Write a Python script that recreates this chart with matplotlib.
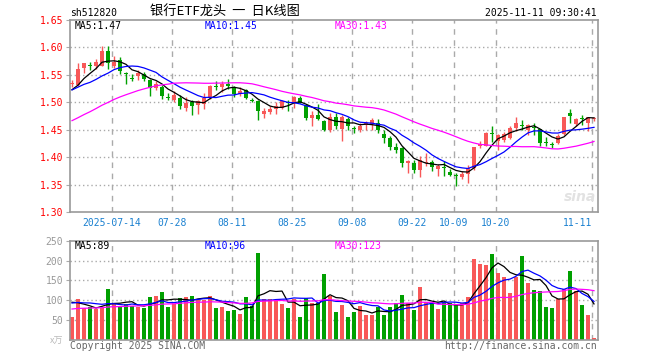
import numpy as np
import matplotlib
matplotlib.use("Agg")
import matplotlib.pyplot as plt

# daily candles, 2025-07-03 .. 2025-11-11 (88 trading days)
opens = [1.533,1.532,1.563,1.568,1.566,1.567,1.593,1.566,1.577,1.553,
         1.545,1.548,1.551,1.540,1.526,1.528,1.510,1.505,1.507,1.490,
         1.500,1.495,1.496,1.508,1.530,1.528,1.534,1.528,1.515,1.522,
         1.504,1.503,1.479,1.483,1.488,1.489,1.501,1.498,1.507,1.495,
         1.471,1.476,1.465,1.450,1.474,1.451,1.470,1.453,1.449,1.459,
         1.461,1.462,1.443,1.435,1.419,1.416,1.389,1.389,1.376,1.390,
         1.391,1.379,1.381,1.373,1.367,1.364,1.370,1.380,1.420,1.421,
         1.443,1.430,1.432,1.435,1.453,1.458,1.450,1.455,1.451,1.427,
         1.423,1.426,1.443,1.480,1.461,1.470,1.463,1.469]
closes = [1.535,1.561,1.571,1.566,1.574,1.593,1.571,1.574,1.557,1.551,
          1.543,1.554,1.543,1.526,1.533,1.511,1.508,1.513,1.493,1.499,
          1.493,1.503,1.508,1.530,1.528,1.534,1.529,1.516,1.520,1.507,
          1.502,1.484,1.485,1.488,1.494,1.503,1.499,1.510,1.499,1.472,
          1.477,1.469,1.450,1.474,1.457,1.473,1.457,1.451,1.457,1.463,
          1.468,1.449,1.434,1.418,1.413,1.389,1.393,1.376,1.395,1.392,
          1.382,1.384,1.380,1.367,1.366,1.370,1.381,1.418,1.424,1.444,
          1.442,1.440,1.442,1.454,1.463,1.457,1.458,1.454,1.425,1.425,
          1.422,1.439,1.474,1.475,1.469,1.469,1.473,1.472]
highs = [1.540,1.571,1.572,1.573,1.578,1.602,1.602,1.584,1.582,1.556,
         1.551,1.558,1.555,1.543,1.539,1.532,1.517,1.520,1.513,1.510,
         1.505,1.505,1.517,1.532,1.539,1.539,1.543,1.530,1.528,1.524,
         1.508,1.505,1.490,1.494,1.501,1.504,1.505,1.511,1.512,1.496,
         1.485,1.496,1.468,1.481,1.481,1.476,1.473,1.457,1.462,1.465,
         1.471,1.470,1.450,1.438,1.426,1.419,1.394,1.395,1.402,1.408,
         1.395,1.387,1.393,1.378,1.371,1.375,1.385,1.419,1.429,1.445,
         1.457,1.442,1.445,1.456,1.474,1.467,1.460,1.463,1.452,1.436,
         1.428,1.443,1.474,1.487,1.472,1.476,1.474,1.473]
lows = [1.528,1.529,1.554,1.558,1.561,1.566,1.561,1.563,1.551,1.534,
        1.538,1.540,1.538,1.511,1.523,1.506,1.504,1.501,1.487,1.485,
        1.477,1.478,1.487,1.506,1.522,1.518,1.524,1.510,1.512,1.506,
        1.500,1.468,1.471,1.478,1.479,1.487,1.484,1.489,1.498,1.467,
        1.457,1.467,1.447,1.445,1.451,1.430,1.449,1.444,1.445,1.450,
        1.450,1.444,1.426,1.413,1.407,1.382,1.371,1.371,1.364,1.384,
        1.374,1.365,1.366,1.365,1.348,1.360,1.353,1.376,1.417,1.421,
        1.428,1.413,1.428,1.433,1.448,1.449,1.440,1.440,1.421,1.421,
        1.417,1.424,1.440,1.463,1.456,1.459,1.447,1.466]
# volume, 万
volumes = [59,104,80,83,77,80,128,92,86,90,
           86,84,81,107,112,121,84,90,106,108,
           112,101,100,111,81,83,74,76,65,109,
           86,220,102,104,99,91,81,102,58,106,
           94,92,166,112,70,88,58,70,86,63,
           63,84,63,83,92,113,92,76,133,96,
           92,78,92,92,87,92,108,204,191,189,
           216,169,159,118,159,211,143,126,123,83,
           81,103,128,174,123,88,63,6]

# earlier days, only needed for the moving averages
pre_close = [1.40,1.40,1.41,1.40,1.41,1.42,1.41,1.42,1.43,1.43,
             1.44,1.45,1.44,1.45,1.46,1.47,1.46,1.48,1.49,1.50,
             1.51,1.52,1.53,1.52,1.53,1.52,1.51,1.52,1.53]
pre_vol = [60,65,72,58,70,75,68,80,66,72,70,64,78,74,69,73,75,70,68,83,
           88,92,85,95,95,110,98,104,104]

tick_idx = [7,17,27,37,47,57,64,71,87]
tick_lbl = ['2025-07-14','07-28','08-11','08-25','09-08','09-22','10-09','10-20','11-11']
price_ticks = [1.30,1.35,1.40,1.45,1.50,1.55,1.60,1.65]
vol_ticks = [50,100,150,200,250]

RED = '#f85858'
GREEN = '#00a000'
MONO = 'DejaVu Sans Mono'
CJK = ['Noto Sans CJK SC', 'DejaVu Sans']

def ma(vals, pre, n):
    a = np.array(pre + vals, dtype=float)
    m = np.convolve(a, np.ones(n) / n, mode='valid')
    return m[-len(vals):]

o = np.array(opens); c = np.array(closes)
h = np.array(highs); l = np.array(lows)
x = np.arange(len(closes))
up = c >= o
cols = np.where(up, RED, GREEN)

W, H = 660, 360
fig = plt.figure(figsize=(6.6, 3.6), dpi=100)
ax1 = fig.add_axes([70/W, 1-212/H, 528/W, 192/H])
ax2 = fig.add_axes([70/W, 1-340/H, 528/W, 99.3/H])

for ax in (ax1, ax2):
    ax.set_xlim(-1/3, 87 + 2/3)
    for s in ax.spines.values():
        s.set_color('#999999')
        s.set_linewidth(1.2)
    for k in tick_idx:
        ax.axvline(k - 1/3, color='#aaaaaa', lw=1, ls=(0, (4, 4)), zorder=0)

# candles
ax1.vlines(x, l, h, colors=cols, lw=1, zorder=2)
body = np.maximum(np.abs(c - o), 0.0018)
ax1.bar(x, body, bottom=np.minimum(o, c), width=0.8, color=cols, zorder=3)
ma5 = ma(closes, pre_close, 5)
ma10 = ma(closes, pre_close, 10)
ma30 = ma(closes, pre_close, 30)
ax1.plot(x, ma5, color='black', lw=0.9, zorder=4)
ax1.plot(x, ma10, color='#0000ff', lw=0.9, zorder=4)
ax1.plot(x, ma30, color='#ff00ff', lw=0.9, zorder=4)
ax1.set_ylim(1.30, 1.65)
ax1.set_yticks(price_ticks)
ax1.set_yticklabels(['%.2f' % v for v in price_ticks], color='red', family=MONO, fontsize=7)
for v in price_ticks[1:-1]:
    ax1.axhline(v, color='#aaaaaa', lw=1, ls=(0, (1, 2)), zorder=0)
ax1.set_xticks([k - 1/3 for k in tick_idx])
ax1.set_xticklabels(tick_lbl, color='#1a80d0', family=MONO, fontsize=7)
ax1.tick_params(axis='x', length=0, pad=4)
ax1.tick_params(axis='y', length=3, width=0.8, color='#aaaaaa', pad=2)
ax1.get_xticklabels()[-1].set_ha('right')

# volume
ax2.bar(x, volumes, width=0.8, color=cols, zorder=2)
ax2.plot(x, ma(volumes, pre_vol, 5), color='black', lw=0.9, zorder=4)
ax2.plot(x, ma(volumes, pre_vol, 10), color='#0000ff', lw=0.9, zorder=4)
ax2.plot(x, ma(volumes, pre_vol, 30), color='#ff00ff', lw=0.9, zorder=4)
ax2.set_ylim(0, 250)
ax2.set_yticks(vol_ticks)
ax2.set_yticklabels([str(v) for v in vol_ticks], color='#999999', family=MONO, fontsize=7)
for v in vol_ticks[:-1]:
    ax2.axhline(v, color='#aaaaaa', lw=1, ls=(0, (1, 2)), zorder=0)
ax2.set_xticks([])
ax2.tick_params(axis='y', length=3, width=0.8, color='#aaaaaa', pad=2)

# texts
def ftext(px, py, s, **kw):
    fig.text(px / W, 1 - py / H, s, va='center', **kw)

ftext(70, 13, 'sh512820', family=MONO, fontsize=7, color='black')
ftext(150, 12.5, '银行ETF龙头  一  日K线图', family=CJK, fontsize=9.5, color='black')
ftext(597, 13, '2025-11-11 09:30:41', family=MONO, fontsize=7, color='black', ha='right')
ftext(75, 26, 'MA5:%.2f' % ma5[-1], family=MONO, fontsize=7, color='black')
ftext(205, 26, 'MA10:%.2f' % ma10[-1], family=MONO, fontsize=7, color='#0000ff')
ftext(335, 26, 'MA30:%.2f' % ma30[-1], family=MONO, fontsize=7, color='#ff00ff')
ftext(75, 246, 'MA5:89', family=MONO, fontsize=7, color='black')
ftext(205, 246, 'MA10:96', family=MONO, fontsize=7, color='#0000ff')
ftext(335, 246, 'MA30:123', family=MONO, fontsize=7, color='#ff00ff')
ftext(63, 341, 'x万', family=CJK, fontsize=6.5, color='#bbbbbb', ha='right')
ftext(70, 346, 'Copyright 2025 SINA.COM', family=MONO, fontsize=7, color='#666666')
ftext(597, 346, 'http://finance.sina.com.cn', family=MONO, fontsize=7, color='#666666', ha='right')
ftext(580, 197, 'sina', family='DejaVu Sans', fontsize=10, fontweight='bold',
      style='italic', color='#e2e2e2', ha='center')

fig.savefig('out.png', dpi=100)
